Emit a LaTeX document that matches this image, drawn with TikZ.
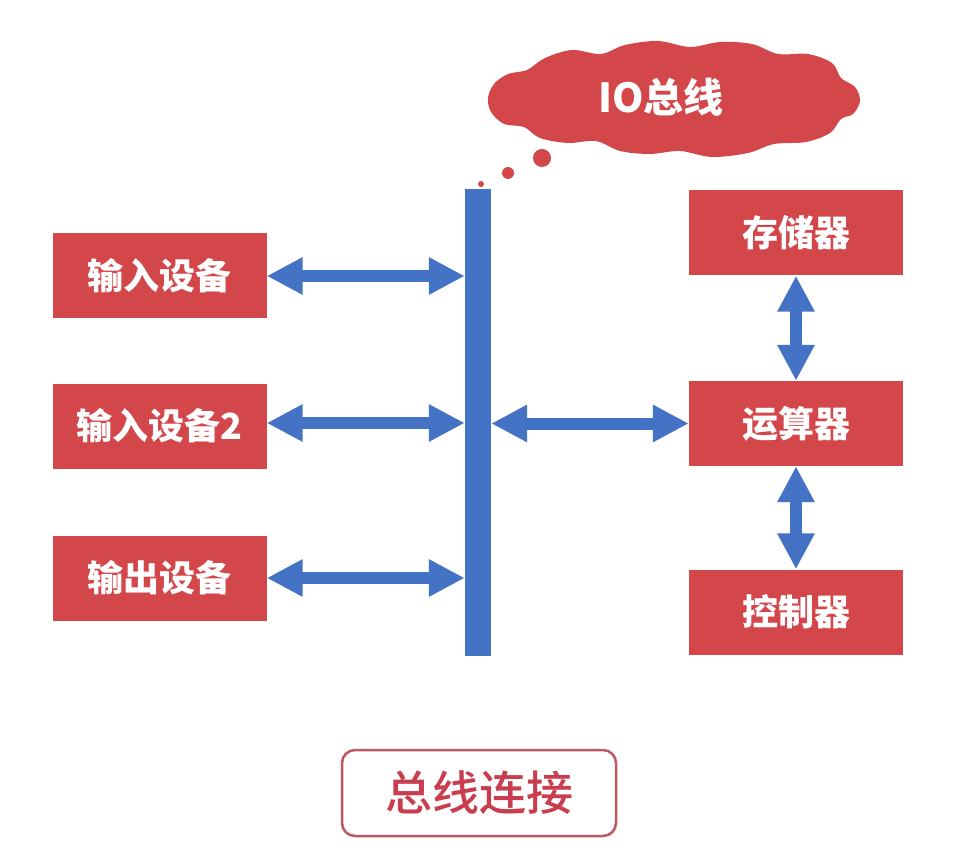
\documentclass[tikz,border=0pt]{standalone}
\usepackage{fontspec}
\newfontfamily\cjk{Noto Sans CJK SC}
\newfontfamily\cjkm{Noto Sans CJK SC Medium}
\usetikzlibrary{arrows.meta}
\definecolor{boxred}{RGB}{211,71,75}
\definecolor{busblue}{RGB}{68,114,196}
\definecolor{framered}{RGB}{192,86,96}
\definecolor{textred}{RGB}{200,62,78}
\tikzset{
  redbox/.style={fill=boxred, draw=none, minimum width=214pt, minimum height=85pt,
    inner sep=0pt, text=white, font=\cjk\bfseries\fontsize{36}{42}\selectfont},
  busarrow/.style={draw=busblue, line width=12pt,
    {Triangle[width=35pt,length=36pt]}-{Triangle[width=35pt,length=36pt]}},
  bubble/.style={fill=boxred, draw=none, circle, inner sep=0pt},
}
\begin{document}
\begin{tikzpicture}[x=1pt,y=-1pt]
\useasboundingbox (0,0) rectangle (956,850);
% bus
\node[fill=busblue, draw=none, minimum width=26pt, minimum height=467pt, inner sep=0pt] (bus) at (478,422.5) {};
% left boxes
\node[redbox] (in1) at (159.5,276) {输入设备};
\node[redbox] (in2) at (159.5,426) {输入设备2};
\node[redbox] (out) at (159.5,578) {输出设备};
% right boxes
\node[redbox] (mem) at (796,233) {存储器};
\node[redbox] (alu) at (796,423.5) {运算器};
\node[redbox] (ctl) at (796,612) {控制器};
% arrows
\draw[busarrow] (in1.east) -- (bus.west |- in1.east);
\draw[busarrow] (in2.east |- 0,423) -- (bus.west |- 0,423);
\draw[busarrow] (out.east) -- (bus.west |- out.east);
\draw[busarrow] (bus.east |- alu.west) -- (alu.west);
\draw[busarrow] (mem.south) -- (alu.north);
\draw[busarrow] (alu.south) -- (ctl.north);
% cloud
\fill[boxred] plot[smooth cycle, tension=0.55] coordinates {
  (488,98) (494,84) (508,74) (527,70) (545,58) (572,50) (601,54) (625,45)
  (658,41) (690,47) (720,42) (752,44) (778,54) (808,54) (832,63) (841,78)
  (855,87) (860,101) (853,114) (841,119) (830,133) (806,142) (774,144)
  (748,153) (712,157) (680,151) (650,154) (620,151) (596,141) (568,143)
  (540,138) (524,127) (504,124) (491,112)};
\node[text=white, font=\cjk\bfseries\fontsize{40}{46}\selectfont, inner sep=0pt] (iot) at (661,97) {IO总线};
\node[bubble, minimum size=18pt] (b1) at (542,158) {};
\node[bubble, minimum size=12pt] (b2) at (508,173) {};
\node[bubble, minimum size=6pt] (b3) at (481,184) {};
% caption
\node[draw=framered, line width=2.5pt, rounded corners=13pt, fill=white,
  minimum width=274pt, minimum height=86pt, inner sep=0pt,
  text=textred, font=\cjkm\fontsize{47}{52}\selectfont] (cap) at (479,793) {总线连接};
\end{tikzpicture}
\end{document}
